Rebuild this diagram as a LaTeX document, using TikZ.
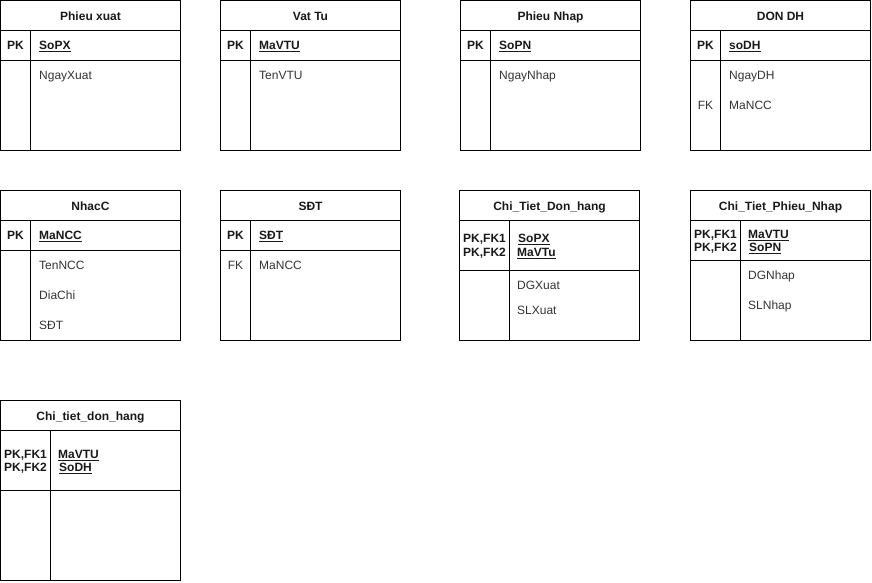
\documentclass[tikz,border=0pt]{standalone}
\usepackage{fontspec}
\setmainfont{Liberation Sans}
\begin{document}
\begin{tikzpicture}[x=1pt,y=-1pt,
  frame/.style={draw=black, line width=1pt},
  txt/.style={inner sep=0pt, text height=8.6pt, text depth=0pt, text=black!80, font=\fontsize{12}{14}\selectfont},
  title/.style={txt, text=black!90, font=\fontsize{12}{14}\selectfont\bfseries},
  keylbl/.style={txt, text=black!90, font=\fontsize{12}{14}\selectfont\bfseries},
  fklbl/.style={txt},
  keyfld/.style={txt, anchor=west, text=black!90, font=\fontsize{12}{14}\selectfont\bfseries},
  fld/.style={txt, anchor=west}]
\useasboundingbox (0,0) rectangle (872,582);

% ---- Phieu xuat ----
\draw[frame] (0.5,0.5) rectangle (180.5,150.5);
\draw[frame] (0.5,30.5) -- (180.5,30.5) (0.5,60.5) -- (180.5,60.5) (30.5,30.5) -- (30.5,150.5);
\node[title] (px-t) at (90.5,16) {Phieu xuat};
\node[keylbl] (px-k) at (15.5,45.5) {PK};
\node[keyfld] (px-pk) at (39,45.5) {\underline{SoPX}};
\node[fld] (px-f1) at (39,75.5) {NgayXuat};

% ---- Vat Tu ----
\draw[frame] (220.5,0.5) rectangle (400.5,150.5);
\draw[frame] (220.5,30.5) -- (400.5,30.5) (220.5,60.5) -- (400.5,60.5) (250.5,30.5) -- (250.5,150.5);
\node[title] (vt-t) at (310.5,16) {Vat Tu};
\node[keylbl] (vt-k) at (235.5,45.5) {PK};
\node[keyfld] (vt-pk) at (259,45.5) {\underline{MaVTU}};
\node[fld] (vt-f1) at (259,75.5) {TenVTU};

% ---- Phieu Nhap ----
\draw[frame] (460.5,0.5) rectangle (640.5,150.5);
\draw[frame] (460.5,30.5) -- (640.5,30.5) (460.5,60.5) -- (640.5,60.5) (490.5,30.5) -- (490.5,150.5);
\node[title] (pn-t) at (550.5,16) {Phieu Nhap};
\node[keylbl] (pn-k) at (475.5,45.5) {PK};
\node[keyfld] (pn-pk) at (499,45.5) {\underline{SoPN}};
\node[fld] (pn-f1) at (499,75.5) {NgayNhap};

% ---- DON DH ----
\draw[frame] (690.5,0.5) rectangle (870.5,150.5);
\draw[frame] (690.5,30.5) -- (870.5,30.5) (690.5,60.5) -- (870.5,60.5) (720.5,30.5) -- (720.5,150.5);
\node[title] (dh-t) at (780.5,16) {DON DH};
\node[keylbl] (dh-k) at (705.5,45.5) {PK};
\node[keyfld] (dh-pk) at (729,45.5) {\underline{soDH}};
\node[fld] (dh-f1) at (729,75.5) {NgayDH};
\node[fklbl] (dh-fk) at (705.5,105.5) {FK};
\node[fld] (dh-f2) at (729,105.5) {MaNCC};

% ---- NhacC ----
\draw[frame] (0.5,190.5) rectangle (180.5,340.5);
\draw[frame] (0.5,220.5) -- (180.5,220.5) (0.5,250.5) -- (180.5,250.5) (30.5,220.5) -- (30.5,340.5);
\node[title] (nc-t) at (90.5,206) {NhacC};
\node[keylbl] (nc-k) at (15.5,235.5) {PK};
\node[keyfld] (nc-pk) at (39,235.5) {\underline{MaNCC}};
\node[fld] (nc-f1) at (39,265.5) {TenNCC};
\node[fld] (nc-f2) at (39,295.5) {DiaChi};
\node[fld] (nc-f3) at (39,325.5) {SĐT};

% ---- SĐT ----
\draw[frame] (220.5,190.5) rectangle (400.5,340.5);
\draw[frame] (220.5,220.5) -- (400.5,220.5) (220.5,250.5) -- (400.5,250.5) (250.5,220.5) -- (250.5,340.5);
\node[title] (sdt-t) at (310.5,206) {SĐT};
\node[keylbl] (sdt-k) at (235.5,235.5) {PK};
\node[keyfld] (sdt-pk) at (259,235.5) {\underline{SĐT}};
\node[fklbl] (sdt-fk) at (235.5,265.5) {FK};
\node[fld] (sdt-f1) at (259,265.5) {MaNCC};

% ---- Chi_Tiet_Don_hang ----
\draw[frame] (459.5,190.5) rectangle (639.5,340.5);
\draw[frame] (459.5,220.5) -- (639.5,220.5) (459.5,270.5) -- (639.5,270.5) (509.5,220.5) -- (509.5,340.5);
\node[title] (ctd-t) at (549.5,206) {Chi\_Tiet\_Don\_hang};
\node[keyfld] (ctd-k1) at (463,238.5) {PK,FK1};
\node[keyfld] (ctd-k2) at (463,252.5) {PK,FK2};
\node[keyfld] (ctd-pk1) at (518,238.5) {\underline{SoPX}};
\node[keyfld] (ctd-pk2) at (517,252.5) {\underline{MaVTu}};
\node[fld] (ctd-f1) at (517,285.5) {DGXuat};
\node[fld] (ctd-f2) at (517,310.5) {SLXuat};

% ---- Chi_Tiet_Phieu_Nhap ----
\draw[frame] (690.5,190.5) rectangle (870.5,340.5);
\draw[frame] (690.5,220.5) -- (870.5,220.5) (690.5,260.5) -- (870.5,260.5) (740.5,220.5) -- (740.5,340.5);
\node[title] (ctp-t) at (780.5,206) {Chi\_Tiet\_Phieu\_Nhap};
\node[keyfld] (ctp-k1) at (694,234.5) {PK,FK1};
\node[keyfld] (ctp-k2) at (694,247.5) {PK,FK2};
\node[keyfld] (ctp-pk1) at (748,234.5) {\underline{MaVTU}};
\node[keyfld] (ctp-pk2) at (749,247.5) {\underline{SoPN}};
\node[fld] (ctp-f1) at (748,275.5) {DGNhap};
\node[fld] (ctp-f2) at (748,305.5) {SLNhap};

% ---- Chi_tiet_don_hang ----
\draw[frame] (0.5,400.5) rectangle (180.5,580.5);
\draw[frame] (0.5,430.5) -- (180.5,430.5) (0.5,490.5) -- (180.5,490.5) (50.5,430.5) -- (50.5,580.5);
\node[title] (ctdh-t) at (90.5,416) {Chi\_tiet\_don\_hang};
\node[keyfld] (ctdh-k1) at (4,454.5) {PK,FK1};
\node[keyfld] (ctdh-k2) at (4,467.5) {PK,FK2};
\node[keyfld] (ctdh-pk1) at (58,454.5) {\underline{MaVTU}};
\node[keyfld] (ctdh-pk2) at (59,467.5) {\underline{SoDH}};
\end{tikzpicture}
\end{document}
